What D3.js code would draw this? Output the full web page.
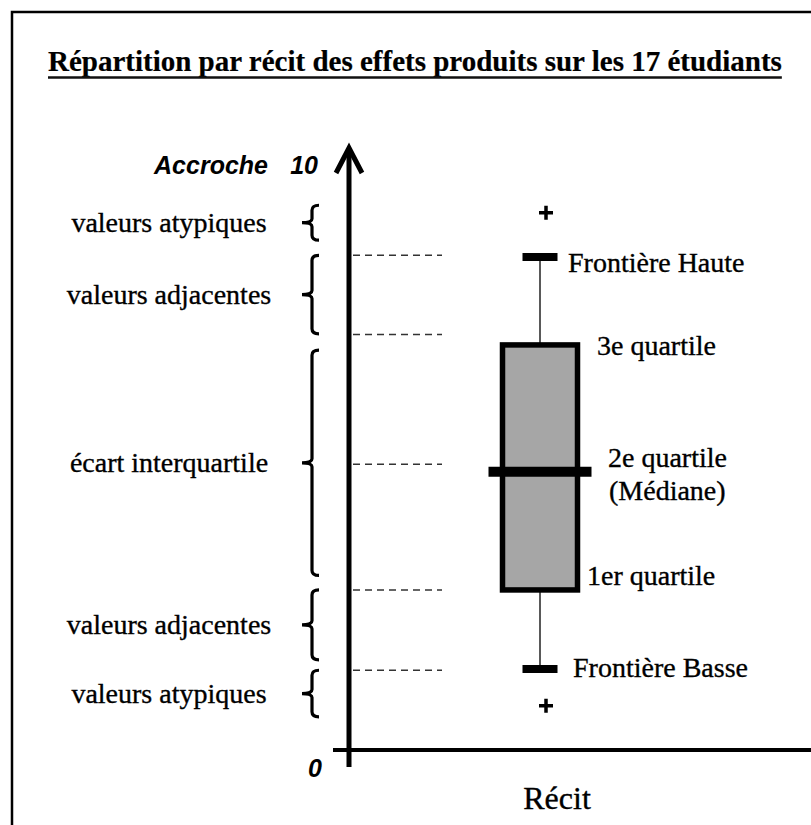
<!DOCTYPE html>
<meta charset="utf-8">
<html>
  <head>
    <title>Boîte à moustaches - Récit</title>
    <style>
      body { margin: 0; background: #fff; }
      svg { display: block; }
      .serif { font-family: "Liberation Serif", "Times New Roman", serif; fill: #000; stroke: #000; stroke-width: 0.35px; }
      .sans { font-family: "Liberation Sans", Arial, sans-serif; font-style: italic; font-weight: bold; fill: #000; }
    </style>
  </head>
  <body>
    <div id="chart"></div>
    <script src="https://cdn.jsdelivr.net/npm/d3@7"></script>
    <script>

    // data (scale 0..10)
    var categories = ["Récit"];
    var outliers = [9.23, 0.76];
    var whiskers = [1.39, 8.47];          // frontière basse, frontière haute
    var quartiles = [2.75, 4.78, 6.96];   // Q1, médiane, Q3
    var dashLevels = [8.5, 7.14, 4.91, 2.75, 1.37];
    var braceLabels = ["valeurs atypiques", "valeurs adjacentes", "écart interquartile", "valeurs adjacentes", "valeurs atypiques"];
    var braceSpans = [[8.76, 9.36], [7.15, 8.5], [3.0, 6.87], [1.55, 2.75], [0.57, 1.37]];
    var boxLabels = ["Frontière Haute", "3e quartile", "2e quartile", "1er quartile", "Frontière Basse"];
    var axisTicks = [0, 10];
    var title = "Répartition par récit des effets produits sur les 17 étudiants";

    var width = 811, height = 825;
    var axisX = 349;

    var svg = d3.select("#chart").append("svg")
        .attr("width", width)
        .attr("height", height);

    // frame (left + top only, the rest is cropped)
    svg.append("path")
        .attr("d", "M12,825 V12 H811")
        .attr("fill", "none")
        .attr("stroke", "#000")
        .attr("stroke-width", 2.5);

    // title, underlined
    var t = svg.append("text")
        .attr("class", "serif")
        .attr("x", 48)
        .attr("y", 71)
        .style("font-size", "29px")
        .style("font-weight", "bold")
        .style("stroke-width", "0.2px")
        .text(title);
    var tl = t.node().getComputedTextLength();
    svg.append("line")
        .attr("x1", 48).attr("x2", 48 + tl)
        .attr("y1", 77.5).attr("y2", 77.5)
        .attr("stroke", "#111")
        .attr("stroke-width", 2.5);

    var y = d3.scaleLinear()
        .domain([0, 10])
        .range([750, 168]);

    var x = d3.scalePoint()
        .domain(categories)
        .range([axisX, 731])
        .padding(0.5);

    // axes
    svg.append("line")
        .attr("x1", 333).attr("x2", width)
        .attr("y1", y(0)).attr("y2", y(0))
        .attr("stroke", "#000")
        .attr("stroke-width", 4);

    svg.append("line")
        .attr("x1", axisX).attr("x2", axisX)
        .attr("y1", y(0) + 17).attr("y2", 150)
        .attr("stroke", "#000")
        .attr("stroke-width", 5);

    svg.append("path")
        .attr("d", "M" + (axisX - 13) + ",173 L" + axisX + ",148 L" + (axisX + 13) + ",173")
        .attr("fill", "none")
        .attr("stroke", "#000")
        .attr("stroke-width", 5)
        .attr("stroke-linejoin", "miter");

    // tick labels 10 and 0
    svg.selectAll(".tick-label")
        .data(axisTicks)
      .enter().append("text")
        .attr("class", "sans tick-label")
        .attr("x", function(d){ return d == 0 ? 315 : 318; })
        .attr("y", function(d){ return d == 0 ? y(d) + 27 : y(d) + 6; })
        .attr("text-anchor", function(d){ return d == 0 ? "middle" : "end"; })
        .style("font-size", "25px")
        .text(function(d){ return d; });

    svg.append("text")
        .attr("class", "sans")
        .attr("x", 268)
        .attr("y", y(10) + 6)
        .attr("text-anchor", "end")
        .style("font-size", "25px")
        .text("Accroche");

    // category label
    svg.selectAll(".cat")
        .data(categories)
      .enter().append("text")
        .attr("class", "serif cat")
        .attr("x", function(d){ return x(d) + 17; })
        .attr("y", 809)
        .attr("text-anchor", "middle")
        .style("font-size", "32px")
        .text(function(d){ return d; });

    // dashed guide lines
    svg.selectAll(".dash")
        .data(dashLevels)
      .enter().append("line")
        .attr("class", "dash")
        .attr("x1", axisX + 4).attr("x2", 442)
        .attr("y1", function(d){ return y(d); })
        .attr("y2", function(d){ return y(d); })
        .attr("stroke", "#333")
        .attr("stroke-width", 1.5)
        .attr("stroke-dasharray", "7,5");

    // braces on the left
    var bx = 312;
    function brace(lo, hi) {
      var y0 = y(hi), y1 = y(lo), ym = (y0 + y1) / 2;
      return "M" + (bx + 7) + "," + y0 +
        " Q" + bx + "," + y0 + " " + bx + "," + (y0 + 5) +
        " L" + bx + "," + (ym - 4) +
        " Q" + bx + "," + ym + " " + (bx - 10) + "," + ym +
        " Q" + bx + "," + ym + " " + bx + "," + (ym + 4) +
        " L" + bx + "," + (y1 - 5) +
        " Q" + bx + "," + y1 + " " + (bx + 7) + "," + y1;
    }

    svg.selectAll(".brace")
        .data(braceSpans)
      .enter().append("path")
        .attr("class", "brace")
        .attr("d", function(d){ return brace(d[0], d[1]); })
        .attr("fill", "none")
        .attr("stroke", "#000")
        .attr("stroke-width", 3.2);

    svg.selectAll(".brace-label")
        .data(braceLabels)
      .enter().append("text")
        .attr("class", "serif brace-label")
        .attr("x", 169)
        .attr("y", function(d, i){ return y((braceSpans[i][0] + braceSpans[i][1]) / 2); })
        .attr("dy", "0.32em")
        .attr("text-anchor", "middle")
        .style("font-size", "28px")
        .text(function(d){ return d; });

    // box plot
    var cx = x(categories[0]);
    var boxW = 75, capW = 35, medW = 103;

    svg.append("line")
        .attr("x1", cx).attr("x2", cx)
        .attr("y1", y(whiskers[1])).attr("y2", y(quartiles[2]))
        .attr("stroke", "#222")
        .attr("stroke-width", 1.5);
    svg.append("line")
        .attr("x1", cx).attr("x2", cx)
        .attr("y1", y(quartiles[0])).attr("y2", y(whiskers[0]))
        .attr("stroke", "#222")
        .attr("stroke-width", 1.5);

    svg.selectAll(".cap")
        .data(whiskers)
      .enter().append("line")
        .attr("class", "cap")
        .attr("x1", cx - capW / 2).attr("x2", cx + capW / 2)
        .attr("y1", function(d){ return y(d); })
        .attr("y2", function(d){ return y(d); })
        .attr("stroke", "#000")
        .attr("stroke-width", 8);

    svg.append("rect")
        .attr("x", cx - boxW / 2)
        .attr("y", y(quartiles[2]))
        .attr("width", boxW)
        .attr("height", y(quartiles[0]) - y(quartiles[2]))
        .attr("fill", "#a6a6a6")
        .attr("stroke", "#000")
        .attr("stroke-width", 5.5);

    svg.append("line")
        .attr("x1", cx - medW / 2).attr("x2", cx + medW / 2)
        .attr("y1", y(quartiles[1])).attr("y2", y(quartiles[1]))
        .attr("stroke", "#000")
        .attr("stroke-width", 10);

    svg.selectAll(".outlier")
        .data(outliers)
      .enter().append("path")
        .attr("class", "outlier")
        .attr("d", function(d){
          var px = cx + 6, py = y(d);
          return "M" + (px - 7) + "," + py + " H" + (px + 7) + " M" + px + "," + (py - 7) + " V" + (py + 7);
        })
        .attr("stroke", "#000")
        .attr("stroke-width", 3.5);

    // labels beside the box
    var labelVals = [whiskers[1], quartiles[2], quartiles[1], quartiles[0], whiskers[0]];
    var labelX = [cx + 28, cx + 57, cx + 68, cx + 47, cx + 33];
    var labelDy = [15, 10, -5, -5, 8];

    svg.selectAll(".box-label")
        .data(boxLabels)
      .enter().append("text")
        .attr("class", "serif box-label")
        .attr("x", function(d, i){ return labelX[i]; })
        .attr("y", function(d, i){ return y(labelVals[i]) + labelDy[i]; })
        .style("font-size", "28px")
        .text(function(d){ return d; });

    svg.append("text")
        .attr("class", "serif")
        .attr("x", cx + 69)
        .attr("y", y(quartiles[1]) + 28)
        .style("font-size", "28px")
        .text("(Médiane)");

    </script>
  </body>
</html>
